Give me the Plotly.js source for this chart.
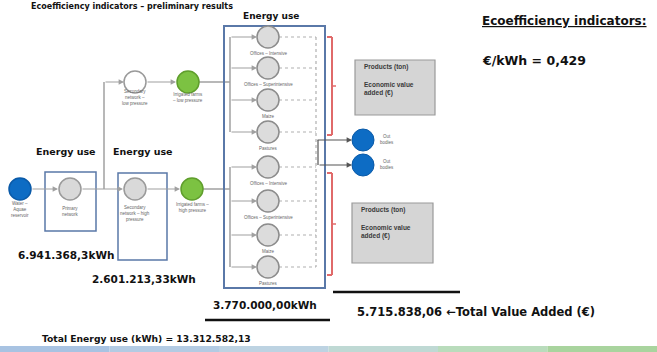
<!DOCTYPE html>
<html>
<head>
<meta charset="utf-8">
<script src="https://cdn.plot.ly/plotly-3.0.1.min.js"></script>
<style>html,body{margin:0;padding:0;background:#fff;}#chart{width:657px;height:352px;}</style>
</head>
<body>
<div id="chart"></div>
<script>
// ---------- DATA ----------
const titleText = 'Ecoefficiency indicators \u2013 preliminary results';
const stageNames = ['Primary network', 'Secondary network \u2013 high pressure', 'Consumers'];
const energyUse = [6941368.3, 2601213.33, 3770000.00];      // kWh
const energyDecimals = [1, 2, 2];
const totalEnergy = 13312582.13;                              // kWh
const totalValueAdded = 5715838.06;                           // €
const ecoIndicator = 0.429;                                   // €/kWh
const consumerCategories = ['Offices \u2013 Intensive', 'Offices \u2013 Superintensive', 'Maize', 'Pastures'];
const networkNodes = ['Water \u2013<br>Aquae<br>reservoir', 'Primary<br>network', 'Secondary<br>network \u2013 high<br>pressure',
  'Irrigated farms \u2013<br>high pressure', 'Secondary<br>network \u2013<br>low pressure', 'Irrigated farms<br>\u2013 low pressure'];
const outputNodes = ['Out<br>bodies', 'Out<br>bodies'];
const productLines = ['Products (ton)', 'Economic value', 'added (\u20ac)'];

// ---------- LAYOUT GEOMETRY (pixel-like coordinates, y down) ----------
const mainY = 189, lowY = 82;
const netPos = [[20, mainY], [70, mainY], [135, mainY], [192, mainY], [135, lowY], [188, lowY]];
const netStyle = [
  {c: '#0d6cc4', l: '#0a5aa8'}, {c: '#d9d9d9', l: '#9a9a9a'}, {c: '#d9d9d9', l: '#9a9a9a'},
  {c: '#7cc242', l: '#5f9e2c'}, {c: '#ffffff', l: '#9a9a9a'}, {c: '#7cc242', l: '#5f9e2c'}];
const innerX = 268;
const upperY = [37, 68, 100, 132];
const lowerY = [167, 201, 235, 267];
const outPos = [[363, 140], [363, 165]];

function fmt(v, d) {
  const s = v.toFixed(d);
  let [i, f] = s.split('.');
  i = i.replace(/\B(?=(\d{3})+(?!\d))/g, '.');
  return f ? i + ',' + f : i;
}

const traces = [];
traces.push({
  type: 'scatter', mode: 'markers', hoverinfo: 'skip',
  x: netPos.map(p => p[0]), y: netPos.map(p => p[1]),
  marker: {size: 22, color: netStyle.map(s => s.c), line: {color: netStyle.map(s => s.l), width: 1.5}}
});
const cY = upperY.concat(lowerY);
traces.push({
  type: 'scatter', mode: 'markers', hoverinfo: 'skip',
  x: cY.map(() => innerX), y: cY,
  marker: {size: 22, color: '#dcdcdc', line: {color: '#8c8c8c', width: 1.5}}
});
traces.push({
  type: 'scatter', mode: 'markers', hoverinfo: 'skip',
  x: outPos.map(p => p[0]), y: outPos.map(p => p[1]),
  marker: {size: 22, color: '#0d6cc4', line: {color: '#0a5aa8', width: 1}}
});

const shapes = [];
const annotations = [];
const grey = '#a0a0a0';
const BIG = 'DejaVu Sans, Verdana, sans-serif';
const SMALL = 'Liberation Sans, Arial, sans-serif';
function line(x0, y0, x1, y1, color, width, dash) {
  shapes.push({type: 'line', xref: 'x', yref: 'y', x0, y0, x1, y1, line: {color, width, dash: dash || 'solid'}, layer: 'below'});
}
function rect(x0, y0, x1, y1, lc, fc, w) {
  shapes.push({type: 'rect', xref: 'x', yref: 'y', x0, y0, x1, y1, line: {color: lc, width: w === undefined ? 1.5 : w}, fillcolor: fc || 'rgba(0,0,0,0)', layer: 'below'});
}
function arrow(x0, y0, x1, y1, color) {
  annotations.push({x: x1, y: y1, ax: x0, ay: y0, xref: 'x', yref: 'y', axref: 'x', ayref: 'y', text: '',
    showarrow: true, arrowhead: 2, arrowsize: 0.9, arrowwidth: 1.2, arrowcolor: color || grey, standoff: 0});
}
function text(x, y, t, size, color, opts, fam) {
  annotations.push(Object.assign({x, y, xref: 'x', yref: 'y', text: t, showarrow: false,
    font: {size, color: color || '#111', family: fam || SMALL}}, opts || {}));
}

// main chain
arrow(31, mainY, 58, mainY);
arrow(81, mainY, 123, mainY);
arrow(146, mainY, 180, mainY);
line(203, mainY, 230, mainY, grey, 1.5);
// low pressure branch
line(104, mainY, 104, lowY, grey, 1.5);
arrow(104, lowY, 124, lowY);
arrow(146, lowY, 176, lowY);
line(199, lowY, 230, lowY, grey, 1.5);

// boxes
rect(45, 172, 96, 231, '#5a78a8');
rect(118, 173, 167, 260, '#5a78a8');
rect(224, 26, 325, 288, '#5a78a8', null, 2);

// internal distribution
line(230, upperY[0], 230, upperY[3], grey, 1.5);
line(230, lowerY[0], 230, lowerY[3], grey, 1.5);
cY.forEach(y => {
  arrow(230, y, 257, y);
  line(279, y, 316, y, '#b0b0b0', 1.2, 'dot');
});
line(316, upperY[0], 316, lowerY[3], '#b0b0b0', 1.2, 'dot');

// outputs
arrow(316, outPos[0][1], outPos[0][0] - 11, outPos[0][1], '#555');
line(318, outPos[0][1], 318, outPos[1][1], '#555', 1.2);
arrow(318, outPos[1][1], outPos[1][0] - 11, outPos[1][1], '#555');

// red brackets
const red = '#e06a6a';
[[37, 135, 86], [173, 275, 224]].forEach(b => {
  line(332, b[0], 332, b[1], red, 2);
  line(327, b[0], 332, b[0], red, 2);
  line(327, b[1], 332, b[1], red, 2);
  line(332, b[2], 336, b[2], red, 1.5);
});

// product boxes
[[355, 60, 435, 115], [352, 203, 433, 263]].forEach(b => {
  rect(b[0], b[1], b[2], b[3], '#9a9a9a', '#d5d5d5', 1.2);
  text(b[0] + 7, b[1] + 7, '<b>' + productLines[0] + '</b>', 6.5, '#3a3a3a', {xanchor: 'left'});
  text(b[0] + 7, b[1] + 24, '<b>' + productLines[1] + '</b>', 6.5, '#3a3a3a', {xanchor: 'left'});
  text(b[0] + 7, b[1] + 33, '<b>' + productLines[2] + '</b>', 6.5, '#3a3a3a', {xanchor: 'left'});
});

// tiny node labels
const netLabelY = [209, 211, 213, 207, 97, 97];
networkNodes.forEach((n, i) => text(netPos[i][0], netLabelY[i], n, 4.5, '#666', {yanchor: 'middle'}));
upperY.forEach((y, i) => text(innerX, y + 16, consumerCategories[i], 4.5, '#666'));
lowerY.forEach((y, i) => text(innerX, y + 16, consumerCategories[i], 4.5, '#666'));
outPos.forEach((p, i) => text(p[0] + 15, p[1] - 1, outputNodes[i], 4.5, '#666', {xanchor: 'left'}));

// energy use headings
text(66, 151, '<b>Energy use</b>', 9.5, '#111', null, BIG);
text(143, 151, '<b>Energy use</b>', 9.5, '#111', null, BIG);
text(271, 16, '<b>Energy use</b>', 9, '#111', null, BIG);

// energy values
const stageLabelPos = [[66, 255], [144, 279], [265, 305]];
energyUse.forEach((v, i) => text(stageLabelPos[i][0], stageLabelPos[i][1], '<b>' + fmt(v, energyDecimals[i]) + 'kWh</b>', 10.5, '#111', null, BIG));

// summary lines
line(205, 320, 330, 320, '#111', 2.5);
line(333, 292, 460, 292, '#111', 2.5);
text(355, 312, '<b>' + fmt(totalValueAdded, 2) + ' \u2190Total Value Added (\u20ac)</b>', 11.5, '#111', {xanchor: 'left'}, BIG);
text(40, 338, '<b>Total Energy use (kWh) = ' + fmt(totalEnergy, 2) + '</b>', 9.2, '#111', {xanchor: 'left'}, BIG);

// indicators
text(480, 21, '<b><u>Ecoefficiency indicators:</u></b>', 12, '#111', {xanchor: 'left'}, BIG);
text(480, 60, '<b>\u20ac/kWh = ' + fmt(ecoIndicator, 3) + '</b>', 12.5, '#111', {xanchor: 'left'}, BIG);

// title at top edge
text(30, 0.5, '<b>' + titleText + '</b>', 8, '#111', {xanchor: 'left', yanchor: 'top', borderpad: 0}, BIG);

// bottom slide strip
const stripCols = ['#a8c3e2', '#b3cbe3', '#bdd3e2', '#bfd9d4', '#b9dcbc', '#a9d49e'];
stripCols.forEach((c, i) => {
  shapes.push({type: 'rect', xref: 'x', yref: 'y', x0: i * 657 / 6, x1: (i + 1) * 657 / 6, y0: 346, y1: 353, line: {width: 0}, fillcolor: c, layer: 'below'});
});

const layout = {
  width: 657, height: 352,
  margin: {l: 0, r: 0, t: 0, b: 0},
  paper_bgcolor: '#ffffff', plot_bgcolor: '#ffffff',
  showlegend: false,
  xaxis: {range: [0, 657], visible: false, fixedrange: true},
  yaxis: {range: [352, 0], visible: false, fixedrange: true},
  shapes, annotations
};
Plotly.newPlot('chart', traces, layout, {displayModeBar: false, staticPlot: true});
</script>
</body>
</html>
